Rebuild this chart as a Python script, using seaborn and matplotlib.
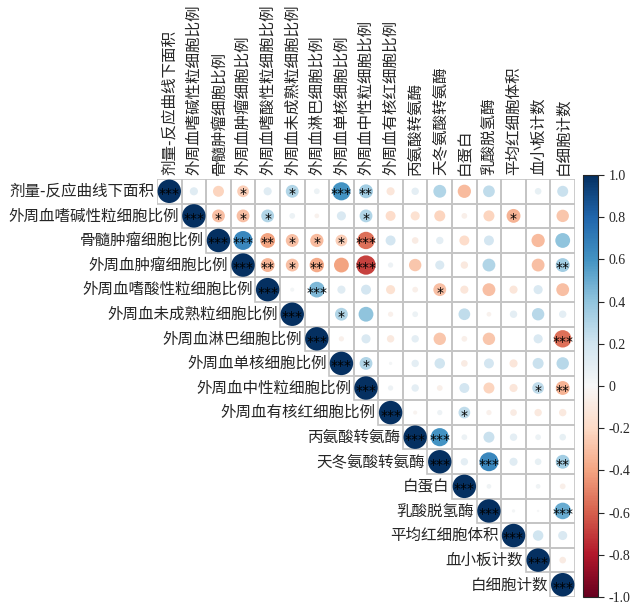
import numpy as np
import pandas as pd
import matplotlib
matplotlib.use('Agg')
import matplotlib.pyplot as plt
import seaborn as sns
from matplotlib.patches import Rectangle

sns.set_style('white')
plt.rcParams['font.family'] = ['Noto Sans CJK SC', 'DejaVu Sans']

# variable names (row/column order)
names = ['剂量-反应曲线下面积', '外周血嗜碱性粒细胞比例', '骨髓肿瘤细胞比例', '外周血肿瘤细胞比例',
         '外周血嗜酸性粒细胞比例', '外周血未成熟粒细胞比例', '外周血淋巴细胞比例', '外周血单核细胞比例',
         '外周血中性粒细胞比例', '外周血有核红细胞比例', '丙氨酸转氨酶', '天冬氨酸转氨酶',
         '白蛋白', '乳酸脱氢酶', '平均红细胞体积', '血小板计数', '白细胞计数']

# upper triangle, each row starts at the diagonal
r00 = [1, 0.12, -0.22, -0.25, 0.12, 0.3, 0.06, 0.6, 0.35, -0.12, 0.1, 0.3, -0.32, 0.25, 0.0, 0.08, 0.22]
r01 = [1, -0.3, -0.3, 0.3, 0.06, -0.04, 0.15, 0.3, -0.18, -0.15, -0.22, -0.06, -0.22, -0.35, 0.0, -0.28]
r02 = [1, 0.65, -0.4, -0.3, -0.32, -0.25, -0.55, 0.18, -0.08, 0.1, -0.18, 0.18, 0.0, -0.32, 0.4]
r03 = [1, -0.35, -0.3, -0.38, -0.4, -0.68, 0.05, -0.28, 0.15, -0.1, 0.3, 0.0, -0.3, 0.35]
r04 = [1, 0.03, 0.45, 0.12, 0.18, -0.15, -0.06, -0.3, -0.12, -0.3, -0.12, 0.15, -0.3]
r05 = [1, 0.0, 0.3, 0.4, -0.05, 0.06, 0.0, 0.25, -0.04, 0.1, 0.28, 0.1]
r06 = [1, -0.05, 0.15, -0.1, 0.1, -0.28, -0.06, -0.28, 0.0, 0.15, -0.55]
r07 = [1, 0.3, 0.02, 0.1, 0.2, -0.08, 0.18, -0.12, 0.22, 0.28]
r08 = [1, 0.05, 0.1, -0.06, 0.18, -0.22, -0.12, 0.25, -0.35]
r09 = [1, -0.03, 0.05, 0.25, -0.05, -0.08, -0.1, -0.1]
r10 = [1, 0.6, 0.06, 0.22, 0.1, 0.06, 0.08]
r11 = [1, 0.1, 0.65, 0.12, 0.08, 0.35]
r12 = [1, 0.04, 0.0, 0.04, -0.06]
r13 = [1, 0.02, 0.01, 0.5]
r14 = [1, 0.2, 0.15]
r15 = [1, -0.08]
r16 = [1]

s00 = ['***', '', '', '*', '', '*', '', '***', '**', '', '', '', '', '', '', '', '']
s01 = ['***', '*', '*', '*', '', '', '', '*', '', '', '', '', '', '*', '', '']
s02 = ['***', '***', '**', '*', '*', '*', '***', '', '', '', '', '', '', '', '']
s03 = ['***', '**', '*', '**', '', '***', '', '', '', '', '', '', '', '**']
s04 = ['***', '', '***', '', '', '', '', '*', '', '', '', '', '']
s05 = ['***', '', '*', '', '', '', '', '', '', '', '', '']
s06 = ['***', '', '', '', '', '', '', '', '', '', '***']
s07 = ['***', '*', '', '', '', '', '', '', '', '']
s08 = ['***', '', '', '', '', '', '', '*', '**']
s09 = ['***', '', '', '*', '', '', '', '']
s10 = ['***', '***', '', '', '', '', '']
s11 = ['***', '', '***', '', '', '**']
s12 = ['***', '', '', '', '']
s13 = ['***', '', '', '***']
s14 = ['***', '', '']
s15 = ['***', '']
s16 = ['***']

rows = [r00, r01, r02, r03, r04, r05, r06, r07, r08, r09, r10, r11, r12, r13, r14, r15, r16]
stars = [s00, s01, s02, s03, s04, s05, s06, s07, s08, s09, s10, s11, s12, s13, s14, s15, s16]

recs = []
for i, (vals, st) in enumerate(zip(rows, stars)):
    for k, (v, s) in enumerate(zip(vals, st)):
        recs.append({'row': i, 'col': i + k, 'r': v, 'absr': abs(v), 'sig': s})
df = pd.DataFrame(recs)

n = len(names)
cmap = plt.get_cmap('RdBu')   # -1 red, +1 dark blue

fig = plt.figure(figsize=(6.36, 6.04), dpi=100)
ax = fig.add_axes([157 / 636, 7 / 604, 418 / 636, 418 / 604])

# grid of the upper triangle
for _, d in df.iterrows():
    ax.add_patch(Rectangle((d['col'] - 0.5, d['row'] - 0.5), 1, 1, fill=False,
                           edgecolor='#c4c4c4', linewidth=1.2, zorder=1))

sns.scatterplot(data=df, x='col', y='row', hue='r', palette=cmap, hue_norm=(-1, 1),
                size='absr', sizes=(0, 285), size_norm=(0, 1), linewidth=0,
                legend=False, ax=ax, zorder=2)

for _, d in df.iterrows():
    if d['sig']:
        ax.text(d['col'], d['row'] + 0.12, d['sig'], ha='center', va='center',
                fontsize=10, color='black', family='DejaVu Sans', zorder=3)

# row labels (left of diagonal) and column labels (top)
for i, nm in enumerate(names):
    ax.text(i - 0.6, i, nm, ha='right', va='center', fontsize=11.2)
    ax.text(i, -0.65, nm, ha='center', va='bottom', rotation=90, fontsize=11.2)

ax.set_xlim(-0.5, n - 0.5)
ax.set_ylim(n - 0.5, -0.5)
ax.set_aspect('auto')
ax.axis('off')

# colour bar
cax = fig.add_axes([583 / 636, 7 / 604, 15 / 636, 422 / 604])
sm = plt.cm.ScalarMappable(cmap=cmap, norm=plt.Normalize(-1, 1))
cb = fig.colorbar(sm, cax=cax)
ticks = np.arange(-1, 1.01, 0.2)
cb.set_ticks(ticks)
cb.set_ticklabels(['0' if abs(t) < 1e-9 else '%.1f' % t for t in ticks])
cb.outline.set_linewidth(0.8)
cax.tick_params(labelsize=10, length=4, width=0.8)
for lab in cax.get_yticklabels():
    lab.set_family('Liberation Serif')

fig.savefig('out.png', dpi=100)
